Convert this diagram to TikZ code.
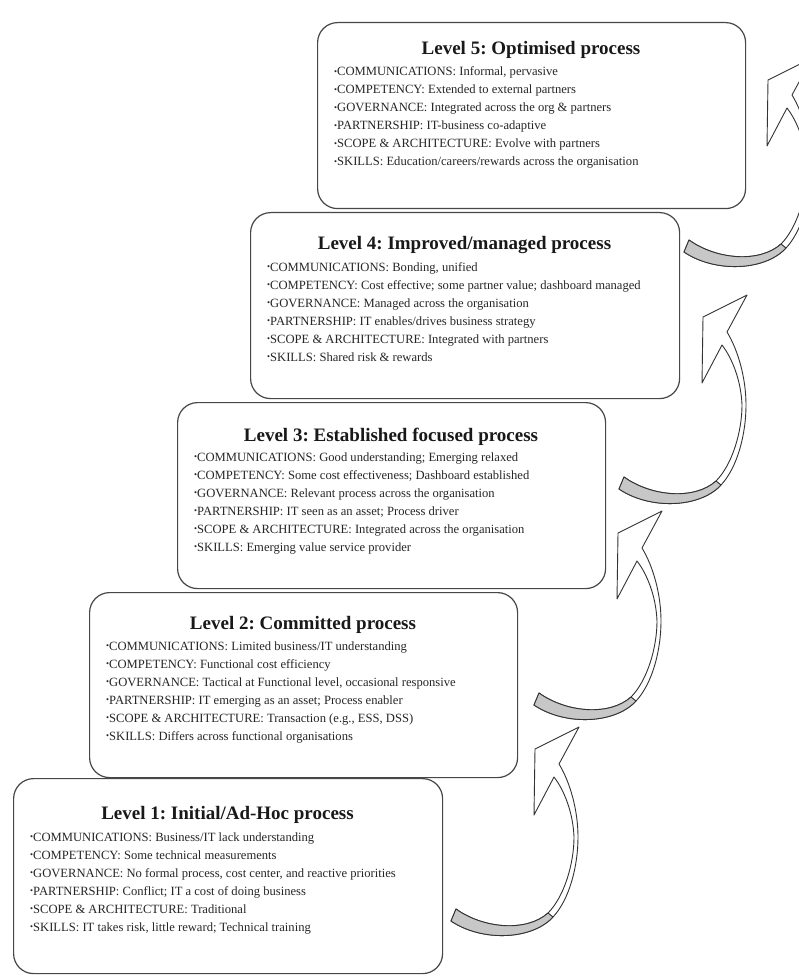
\documentclass[tikz,border=0pt]{standalone}
\usepackage{fontspec}
\setmainfont{Liberation Serif}
\frenchspacing
\newcommand{\lvbul}{\raisebox{1.2pt}{\fontsize{8.5}{8.5}\selectfont\textbullet}}
\tikzset{
  lvbox/.style={draw=black!72, line width=1.2pt, rounded corners=20pt, fill=white,
    anchor=north west, inner sep=0pt},
  lvtitle/.style={font=\fontsize{19}{19}\selectfont\bfseries, inner sep=0pt, anchor=base, text=black!90},
  lvitem/.style={font=\fontsize{12.6}{18}\selectfont, inner sep=0pt, anchor=base west, text=black!85},
  arrline/.style={draw=black!80, line width=0.9pt, line join=round},
  arrback/.style={fill=black!22},
}
\newcommand{\lvarrow}[2]{%
  \begin{scope}[shift={(#1,#2)}]
    \coordinate (tt) at (624,477);
    \coordinate (tb) at (619,489);
    \coordinate (j1) at (716,481);
    \coordinate (j2) at (721,485);
    \coordinate (he) at (722,345);
    \coordinate (ha) at (702,383);
    \coordinate (hb) at (703,317);
    \coordinate (hc) at (747,295);
    \coordinate (hd) at (727,332);
    \path[fill=white, arrline] (tt) .. controls (652,497) and (695,500) .. (j1)
      .. controls (732,465) and (742,432) .. (742,405)
      .. controls (741,380) and (732,358) .. (he)
      -- (ha) -- (hb) -- (hc) -- (hd)
      .. controls (738,350) and (746,378) .. (746,405)
      .. controls (746,435) and (737,468) .. (j2)
      .. controls (700,508) and (650,510) .. (tb) -- cycle;
    \path[arrback, arrline] (tt) .. controls (652,497) and (695,500) .. (j1) -- (j2)
      .. controls (700,508) and (650,510) .. (tb) -- cycle;
  \end{scope}}
\begin{document}
\begin{tikzpicture}[x=1pt,y=-1pt]
\path[use as bounding box, fill=white] (0,0) rectangle (799,976);
\clip (0,0) rectangle (799,976);

% Level 5
\node[lvbox, minimum width=428pt, minimum height=186pt] (l5) at (317,22) {};
\node[lvtitle] (l5t) at (531,54.3) {Level 5: Optimised process};
\foreach \t [count=\i] in {{COMMUNICATIONS: Informal, pervasive},
  {COMPETENCY: Extended to external partners},
  {GOVERNANCE: Integrated across the org \& partners},
  {PARTNERSHIP: IT-business co-adaptive},
  {SCOPE \& ARCHITECTURE: Evolve with partners},
  {SKILLS: Education/careers/rewards across the organisation}}
  \node[lvitem] (l5i\i) at (334,{76+18*(\i-1)}) {\lvbul\t};

% Level 4
\node[lvbox, minimum width=429pt, minimum height=186pt] (l4) at (250,212) {};
\node[lvtitle] (l4t) at (464.5,249.3) {Level 4: Improved/managed process};
\foreach \t [count=\i] in {{COMMUNICATIONS: Bonding, unified},
  {COMPETENCY: Cost effective; some partner value; dashboard managed},
  {GOVERNANCE: Managed across the organisation},
  {PARTNERSHIP: IT enables/drives business strategy},
  {SCOPE \& ARCHITECTURE: Integrated with partners},
  {SKILLS: Shared risk \& rewards}}
  \node[lvitem] (l4i\i) at (267,{271+18*(\i-1)}) {\lvbul\t};

% Level 3
\node[lvbox, minimum width=428pt, minimum height=186pt] (l3) at (177,402) {};
\node[lvtitle] (l3t) at (391,441.3) {Level 3: Established focused process};
\foreach \t [count=\i] in {{COMMUNICATIONS: Good understanding; Emerging relaxed},
  {COMPETENCY: Some cost effectiveness; Dashboard established},
  {GOVERNANCE: Relevant process across the organisation},
  {PARTNERSHIP: IT seen as an asset; Process driver},
  {SCOPE \& ARCHITECTURE: Integrated across the organisation},
  {SKILLS: Emerging value service provider}}
  \node[lvitem] (l3i\i) at (194,{461+18*(\i-1)}) {\lvbul\t};

% Level 2
\node[lvbox, minimum width=428pt, minimum height=185pt] (l2) at (89,592) {};
\node[lvtitle] (l2t) at (303,629.3) {Level 2: Committed process};
\foreach \t [count=\i] in {{COMMUNICATIONS: Limited business/IT understanding},
  {COMPETENCY: Functional cost efficiency},
  {GOVERNANCE: Tactical at Functional level, occasional responsive},
  {PARTNERSHIP: IT emerging as an asset; Process enabler},
  {SCOPE \& ARCHITECTURE: Transaction (e.g., ESS, DSS)},
  {SKILLS: Differs across functional organisations}}
  \node[lvitem] (l2i\i) at (106,{650+18*(\i-1)}) {\lvbul\t};

% Level 1
\node[lvbox, minimum width=429pt, minimum height=195pt] (l1) at (13,778) {};
\node[lvtitle] (l1t) at (227.5,819.3) {Level 1: Initial/Ad-Hoc process};
\foreach \t [count=\i] in {{COMMUNICATIONS: Business/IT lack understanding},
  {COMPETENCY: Some technical measurements},
  {GOVERNANCE: No formal process, cost center, and reactive priorities},
  {PARTNERSHIP: Conflict; IT a cost of doing business},
  {SCOPE \& ARCHITECTURE: Traditional},
  {SKILLS: IT takes risk, little reward; Technical training}}
  \node[lvitem] (l1i\i) at (30,{841+18*(\i-1)}) {\lvbul\t};

% curved arrows
\lvarrow{-168}{432}
\lvarrow{-85}{216}
\lvarrow{0}{0}
\lvarrow{65}{-237}
\end{tikzpicture}
\end{document}
